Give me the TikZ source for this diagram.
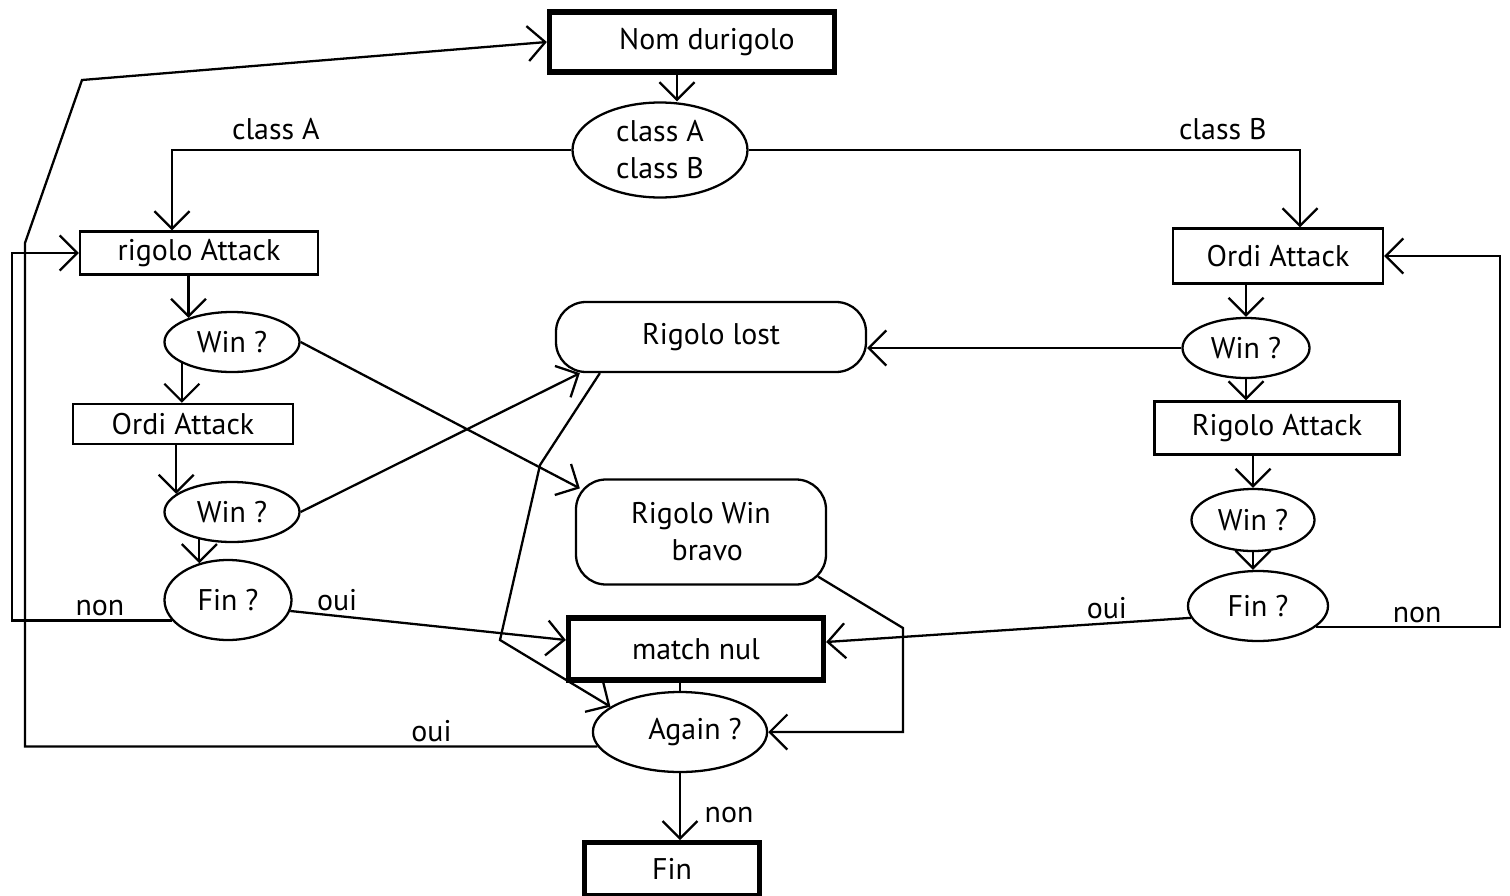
\documentclass[tikz,border=0pt]{standalone}
\usepackage{fontspec}
\setmainfont{PT Sans}
\usetikzlibrary{positioning,arrows.meta,shapes.geometric}

\begin{document}
\begin{tikzpicture}[
  x=0.2mm, y=-0.2mm,
  font=\fontsize{17}{21}\selectfont,
  boite/.style={draw, line width=1.3pt, inner sep=2pt, align=center},
  boiteg/.style={boite, line width=3pt},
  arrondi/.style={boite, rounded corners=6mm},
  bulle/.style={draw, ellipse, line width=1.3pt, inner sep=0pt, align=center},
  fleche/.style={-{Straight Barb[length=3.5mm,width=7mm]}, line width=1.3pt},
  trait/.style={line width=1.3pt},
  etq/.style={inner sep=2pt}
]
\useasboundingbox (0,0) rectangle (1510,896);

% haut
\node[boiteg, minimum width=57mm, minimum height=12mm] (nom) at (692,42) {\quad Nom durigolo};
\node[bulle, minimum width=35mm, minimum height=19mm] (classe) at (660,150) {class A\\class B};

% branche A
\node[boite, minimum width=47.6mm, minimum height=8.6mm] (rigoloA) at (199,253) {rigolo Attack};
\node[bulle, minimum width=27mm, minimum height=12mm] (winA1) at (232,342) {Win ?};
\node[boite, minimum width=44mm, minimum height=8mm] (ordiA) at (183,424) {Ordi Attack};
\node[bulle, minimum width=27mm, minimum height=12mm] (winA2) at (232,512) {Win ?};
\node[bulle, minimum width=25.4mm, minimum height=16mm] (finA) at (228,600) {Fin ?};

% branche B
\node[boite, minimum width=42mm, minimum height=11mm] (ordiB) at (1278,256) {Ordi Attack};
\node[bulle, minimum width=25.4mm, minimum height=12mm] (winB1) at (1246,348) {Win ?};
\node[boite, minimum width=49mm, minimum height=10.6mm] (rigoloB) at (1277,428) {Rigolo Attack};
\node[bulle, minimum width=24.6mm, minimum height=12.4mm] (winB2) at (1253,520) {Win ?};
\node[bulle, minimum width=28mm, minimum height=14mm] (finB) at (1258,606) {Fin ?};

% centre
\node[arrondi, minimum width=62mm, minimum height=14mm] (perdu) at (711,337) {Rigolo lost};
\node[arrondi, minimum width=50mm, minimum height=21mm] (gagne) at (701,532) {Rigolo Win\\\hspace{2.5mm}bravo};
\node[boiteg, minimum width=51mm, minimum height=12.4mm] (nul) at (696,649) {match nul};
\node[bulle, minimum width=33mm, minimum height=16mm] (encore) at (680,732) {\quad Again ?};
\node[boiteg, minimum width=35mm, minimum height=10.6mm, below=13.4mm of encore, xshift=-1.6mm] (fin) {Fin};

\coordinate (bordG) at (12,0);
\coordinate (montee) at (25,243);
\coordinate (coin) at (82,80);
\coordinate (bordD) at (1500,0);
\coordinate (coudeW) at (903,628);
\coordinate (coudeL1) at (540,465);
\coordinate (coudeL2) at (500,640);

% aiguillage
\draw[fleche] ([xshift=-3mm]nom.south) -- ([xshift=-3mm]nom.south |- classe.north);
\draw[fleche] (classe.west) -| node[etq, above=1mm, pos=0.37] {class A} ([xshift=-5.4mm]rigoloA.north);
\draw[fleche] (classe.east) -| node[etq, above=1mm, pos=0.43] {class B} ([xshift=4.4mm]ordiB.north);

% colonne gauche
\draw[fleche] (rigoloA.south -| winA1.151) -- (winA1.151);
\draw[fleche] (winA1.-157) -- (winA1.-157 |- ordiA.north);
\draw[fleche] (ordiA.south -| winA2.162) -- (winA2.162);
\draw[fleche] (winA2.-140) -- (winA2.-140 |- finA.128);

% colonne droite
\draw[fleche] (ordiB.south -| winB1.north) -- (winB1.north);
\draw[fleche] (winB1.south) -- (winB1.south |- rigoloB.north);
\draw[fleche] (rigoloB.south -| winB2.north) -- (winB2.north);
\draw[fleche] (winB2.south) -- (winB2.south |- finB.north);

% resultats
\draw[fleche] (winA1.east) -- ([xshift=1mm,yshift=-2mm]gagne.north west);
\draw[fleche] (winA2.east) -- ([xshift=5mm]perdu.south west);
\draw[fleche] (winB1.west) -- (winB1.west -| perdu.east);
\draw[fleche] (finA.-10) -- node[etq, above, pos=0.17] {oui} ([yshift=1.8mm]nul.west);
\draw[fleche] (finB.190) -- node[etq, above, pos=0.23] {oui} ([yshift=1.4mm]nul.east);
\draw[fleche] ([xshift=9mm]perdu.south west) -- (coudeL1) -- (coudeL2) -- (encore.160);
\draw[fleche] ([shift={(-1.8mm,1.8mm)}]gagne.south east) -- (coudeW) |- (encore.east);
\draw[trait] (encore.north |- nul.south) -- (encore.north);
\draw[fleche] (encore.south) -- node[etq, right=4mm, pos=0.62] {non} (encore.south |- fin.north);

% boucles
\draw[fleche] (finA.200) -- node[etq, above, pos=0.45] {non} (finA.200 -| bordG) |- (rigoloA.west);
\draw[fleche] (finB.-20) -- node[etq, above, pos=0.55] {non} (finB.-20 -| bordD) |- (ordiB.east);
\draw[fleche] (encore.190) -- node[etq, above, pos=0.29] {oui} (encore.190 -| montee) -- (montee) -- (coin) -- (nom.west);
\end{tikzpicture}
\end{document}
